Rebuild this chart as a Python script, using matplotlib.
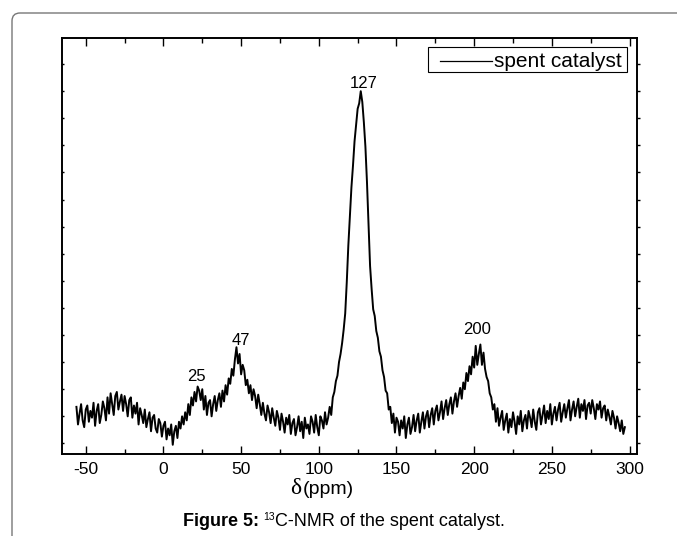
import matplotlib
matplotlib.use("Agg")
import matplotlib.pyplot as plt
import numpy as np
from matplotlib.patches import FancyBboxPatch, Rectangle
from matplotlib.transforms import IdentityTransform

plt.rcParams["font.family"] = ["Liberation Sans", "DejaVu Sans"]
plt.rcParams["axes.unicode_minus"] = False

# chemical shift grid, 1 ppm steps, -56 .. 297
shift_ppm = np.arange(-56, 298)

# intensity (tick units), one value per ppm
intensity = [
    1.35, 0.70, 1.10, 1.45, 0.85, 0.60, 1.25, 1.40, 0.80, 1.20,   # -56
    0.95, 1.50, 0.65, 1.20, 1.45, 0.75, 1.05, 1.55, 1.30, 0.85,   # -46
    1.70, 1.10, 1.85, 1.45, 1.05, 1.75, 1.90, 1.25, 1.55, 1.80,   # -36
    1.20, 1.75, 1.45, 1.00, 1.60, 1.70, 0.95, 1.40, 1.10, 1.50,   # -26
    0.70, 1.30, 1.05, 0.75, 1.25, 0.60, 0.90, 1.15, 0.45, 0.95,   # -16
    1.05, 0.55, 0.40, 0.90, 0.75, 0.25, 0.65, 0.80, 0.15, 0.55,   # -6
    0.30, 0.70, -0.05, 0.45, 0.65, 0.20, 0.80, 0.55, 1.00, 0.70,  # 4
    1.15, 0.85, 1.45, 1.05, 1.70, 1.40, 1.90, 1.55, 2.10, 1.95,   # 14
    1.60, 2.00, 1.25, 1.75, 1.05, 1.50, 1.60, 1.00, 1.45, 1.75,   # 24
    1.20, 1.60, 1.85, 1.35, 1.95, 1.55, 2.15, 1.80, 2.40, 2.20,   # 34
    2.75, 2.50, 3.10, 3.55, 2.95, 3.30, 2.55, 2.90, 2.70, 2.15,   # 44
    2.35, 1.85, 2.15, 1.60, 2.00, 1.75, 1.30, 1.80, 1.45, 1.05,   # 54
    1.50, 1.10, 0.85, 1.40, 1.15, 0.75, 1.30, 0.95, 0.65, 1.20,   # 64
    0.95, 0.50, 1.10, 0.80, 0.40, 0.95, 0.70, 1.05, 0.35, 0.75,   # 74
    0.90, 0.30, 0.60, 1.00, 0.45, 0.80, 0.20, 0.95, 0.55, 0.70,   # 84
    0.35, 1.00, 0.80, 0.40, 1.05, 0.60, 0.30, 1.00, 0.85, 0.55,   # 94
    1.15, 0.70, 0.95, 1.35, 1.05, 1.70, 1.90, 2.30, 2.50, 3.00,   # 104
    3.30, 3.70, 4.20, 4.80, 5.95, 7.30, 8.35, 9.45, 10.25, 11.15, # 114
    11.75, 12.35, 12.55, 13.00, 12.60, 11.85, 10.95, 9.65, 8.15, 6.55,  # 124
    5.70, 4.95, 4.70, 4.15, 3.90, 3.40, 3.20, 2.70, 2.45, 1.95,   # 134
    1.85, 1.25, 1.35, 0.75, 1.10, 0.40, 0.95, 0.80, 0.30, 0.85,   # 144
    0.55, 1.00, 0.20, 0.70, 0.95, 0.35, 0.60, 1.05, 0.45, 0.85,   # 154
    1.10, 0.40, 0.80, 1.15, 0.55, 1.00, 1.20, 0.60, 1.05, 1.30,   # 164
    0.70, 1.20, 1.40, 0.85, 1.15, 1.55, 0.90, 1.30, 1.60, 1.05,   # 174
    1.45, 1.70, 1.10, 1.55, 1.85, 1.35, 1.75, 2.05, 1.65, 2.25,   # 184
    2.00, 2.60, 2.30, 2.85, 2.55, 3.20, 2.80, 3.60, 2.90, 3.30,   # 194
    3.65, 2.90, 3.35, 2.75, 2.45, 2.30, 1.85, 1.70, 1.25, 1.45,   # 204
    0.80, 1.30, 0.65, 0.95, 1.20, 0.50, 0.85, 1.10, 0.40, 0.90,   # 214
    0.60, 1.15, 0.80, 0.35, 1.00, 0.70, 1.20, 0.45, 0.85, 1.05,   # 224
    0.55, 1.20, 0.95, 0.60, 1.25, 0.80, 0.50, 1.15, 1.30, 0.70,   # 234
    1.05, 1.40, 0.75, 1.20, 0.90, 1.45, 0.70, 1.10, 1.35, 0.85,   # 244
    1.25, 1.50, 0.80, 1.15, 1.45, 0.95, 1.30, 1.60, 0.85, 1.25,   # 254
    1.55, 1.00, 1.35, 1.65, 0.95, 1.45, 1.20, 1.60, 0.90, 1.40,   # 264
    1.50, 1.10, 1.60, 1.30, 0.90, 1.45, 1.25, 1.55, 0.95, 1.30,   # 274
    1.40, 0.85, 1.25, 1.00, 0.70, 1.20, 0.95, 0.55, 1.00, 0.75,   # 284
    0.45, 0.85, 0.35, 0.60,                                       # 294
]

peak_labels = ["25", "47", "127", "200"]
label_x = [21.5, 49.7, 128.6, 202.0]
label_y = [2.46, 3.79, 13.3, 4.2]

x_ticks = [-50, 0, 50, 100, 150, 200, 250, 300]
legend_label = "spent catalyst"

fig = plt.figure(figsize=(6.77, 5.36), dpi=100)
ax = fig.add_axes([0.0911, 0.153, 0.8498, 0.776])

ax.plot(shift_ppm, intensity, color="black", linewidth=1.4)

for txt, lx, ly in zip(peak_labels, label_x, label_y):
    ax.text(lx, ly, txt, ha="center", va="center", fontsize=12)

ax.set_xlim(-65.5, 304.8)
ax.set_ylim(-0.39, 14.96)
ax.set_xticks(x_ticks)
ax.set_xticks(np.arange(-50, 301, 25), minor=True)
ax.set_yticks(np.arange(0, 15))
ax.tick_params(axis="x", which="major", direction="in", top=True, length=6, width=1,
               labelsize=12.5, pad=6)
ax.tick_params(axis="x", which="minor", direction="in", top=True, length=3.5, width=1)
ax.tick_params(axis="y", which="major", direction="in", left=True, right=False,
               length=1.6, width=1, labelleft=False)
ax2 = ax.twinx()
ax2.set_ylim(ax.get_ylim())
ax2.set_yticks(np.arange(0, 15))
ax2.tick_params(axis="y", direction="out", length=2, width=1, labelright=False)
for a in (ax, ax2):
    for s in a.spines.values():
        s.set_linewidth(1.2)

# legend box (drawn by hand so the sample line sits inset like the original)
ax.add_patch(Rectangle((0.6362, 0.9175), 0.347, 0.0609, transform=ax.transAxes,
                       fill=False, edgecolor="black", linewidth=0.8, zorder=5))
ax.plot([0.6576, 0.7474], [0.9447, 0.9447], transform=ax.transAxes,
        color="black", linewidth=0.9, zorder=5)
ax.text(0.7510, 0.9447, legend_label, transform=ax.transAxes, fontsize=15,
        ha="left", va="center", zorder=5)

# axis label: serif delta + (ppm)
fig.text(301 / 677, 1 - 494 / 536, "δ", family=["Liberation Serif", "DejaVu Serif"],
         fontsize=17, ha="right", va="baseline")
fig.text(303 / 677, 1 - 494 / 536, "(ppm)", fontsize=14, ha="left", va="baseline")

# outer rounded frame
frame = FancyBboxPatch((12, -40), 720, 536 - 13 + 40,
                       boxstyle="round,pad=0,rounding_size=8",
                       transform=IdentityTransform(), fill=False,
                       edgecolor="#777777", linewidth=1.0)
fig.add_artist(frame)

# caption
renderer = fig.canvas.get_renderer()
base = 1 - 526 / 536
t1 = fig.text(183 / 677, base, "Figure 5:", fontsize=13, weight="bold", va="baseline")
x1 = t1.get_window_extent(renderer).x1 + 4
t2 = fig.text(x1 / 677, base + 6 / 536, "13", fontsize=7.5, va="baseline")
x2 = t2.get_window_extent(renderer).x1
fig.text(x2 / 677, base, "C-NMR of the spent catalyst.", fontsize=13, va="baseline")

fig.savefig("out.png", dpi=100)
